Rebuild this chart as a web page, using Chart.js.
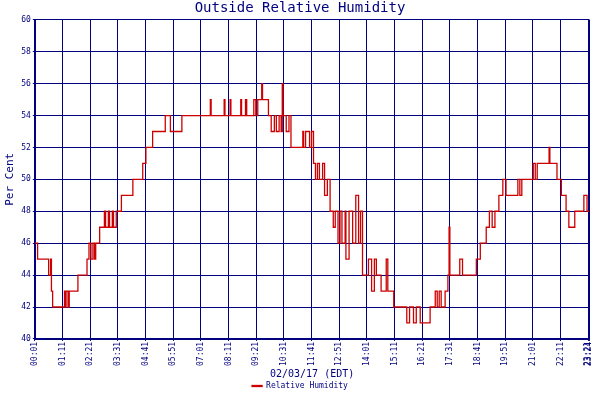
<!DOCTYPE html>
<html>
<head>
<script src="https://cdn.jsdelivr.net/npm/chart.js@4"></script>
<style>body{margin:0;background:#fff}#wrap{width:600px;height:400px}</style>
</head>
<body>
<div id="wrap"><canvas id="chart"></canvas></div>
<script>
// data \/  (minute of day, humidity %)
const minutes = [1,8,36,41,43,46,76,78,80,85,88,110,133,138,143,148,152,155,165,177,180,187,190,197,200,207,220,249,274,282,299,331,344,373,445,447,480,482,495,497,522,524,534,537,555,560,565,575,577,592,599,607,612,619,624,627,629,637,644,649,679,681,686,696,701,706,711,716,721,729,734,741,748,756,761,768,773,778,786,788,796,805,813,820,825,830,845,853,860,865,877,890,894,909,942,949,959,966,976,1001,1014,1019,1024,1029,1039,1046,1049,1051,1076,1083,1118,1128,1143,1151,1158,1165,1175,1185,1193,1223,1228,1233,1262,1267,1272,1302,1304,1322,1333,1345,1352,1367,1390,1398,1404];
const humidity = [46,45,44,45,43,42,43,42,43,42,43,44,45,46,45,46,45,46,47,48,47,48,47,48,47,48,49,50,51,52,53,54,53,54,55,54,55,54,55,54,55,54,55,54,55,54,55,56,55,54,53,54,53,54,53,56,54,53,54,52,53,52,53,52,53,51,50,51,50,51,49,50,48,47,48,46,48,46,48,45,48,46,49,46,48,44,45,43,45,44,43,45,43,42,41,42,41,42,41,42,43,42,43,42,43,44,47,44,45,44,45,46,47,48,47,48,49,50,49,50,49,50,51,50,51,52,51,50,49,48,47,48,49,48,48];
const yTicks = [40,42,44,46,48,50,52,54,56,58,60];
const xTicks = [1,71,141,211,281,351,421,491,561,631,701,771,841,911,981,1051,1121,1191,1261,1331,1401,1404];
// data /\

const navy = "#000080";
const mono = "'DejaVu Sans Mono', monospace";

function hhmm(m) {
    let h = Math.floor(m / 60), mm = m % 60;
    return String(h).padStart(2, "0") + ":" + String(mm).padStart(2, "0");
}

new Chart(document.getElementById("chart"), {
    type: 'line',
    data: {
        datasets: [{
            label: 'Relative Humidity',
            data: minutes.map((m, i) => ({x: m, y: humidity[i]})),
            borderColor: '#cc0000',
            backgroundColor: '#cc0000',
            borderWidth: 1.3,
            pointRadius: 0,
            stepped: true
        }]
    },
    options: {
        animation: false,
        responsive: true,
        maintainAspectRatio: false,
        layout: {padding: {left: 2, right: 2, top: 0, bottom: 0}},
        plugins: {
            title: {display: true, text: 'Outside Relative Humidity', color: navy,
                font: {family: mono, size: 14, weight: 'normal'}, padding: {top: 0, bottom: 3}},
            legend: {position: 'bottom', labels: {color: navy, font: {family: mono, size: 8},
                boxWidth: 10, boxHeight: 1, padding: 1}}
        },
        scales: {
            x: {
                type: 'linear', min: 1, max: 1404,
                afterBuildTicks: ax => { ax.ticks = xTicks.map(v => ({value: v})); },
                ticks: {color: navy, font: {family: mono, size: 8}, maxRotation: 90, minRotation: 90,
                    autoSkip: false, callback: v => hhmm(v), padding: 1},
                grid: {color: navy, lineWidth: 1, tickLength: 2},
                border: {color: navy, width: 2},
                title: {display: true, text: '02/03/17 (EDT)', color: navy, font: {family: mono, size: 10}, padding: 1}
            },
            y: {
                min: 40, max: 60,
                afterBuildTicks: ax => { ax.ticks = yTicks.map(v => ({value: v})); },
                ticks: {color: navy, font: {family: mono, size: 8}, padding: 2},
                grid: {color: navy, lineWidth: 1, tickLength: 2},
                border: {color: navy, width: 2},
                title: {display: true, text: 'Per Cent', color: navy, font: {family: mono, size: 11}, padding: 2}
            }
        }
    }
});
</script>
</body>
</html>
